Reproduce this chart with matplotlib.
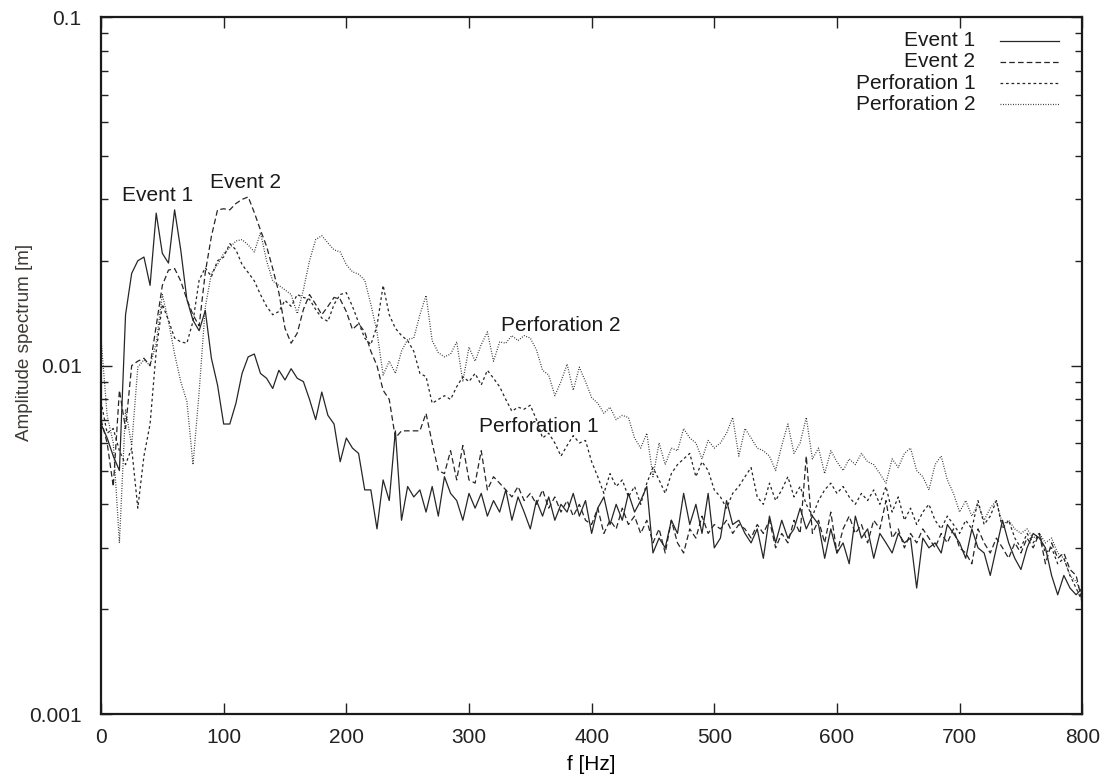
import numpy as np
import matplotlib
matplotlib.use("Agg")
import matplotlib.pyplot as plt
from matplotlib.ticker import FixedLocator, LogLocator, FuncFormatter, NullFormatter

plt.rcParams['font.family'] = ['Liberation Sans', 'DejaVu Sans']

## data (5 Hz steps)

freq = np.arange(0, 805, 5)

event1 = [
    0.0068, 0.0062, 0.0055, 0.0050, 0.0140, 0.0184, 0.0200, 0.0205, 0.0170, 0.0274,
    0.0210, 0.0197, 0.0280, 0.0215, 0.0155, 0.0135, 0.0126, 0.0144, 0.0105, 0.0088,
    0.0068, 0.0068, 0.0078, 0.0095, 0.0106, 0.0108, 0.0095, 0.0092, 0.0086, 0.0097,
    0.0091, 0.0098, 0.0092, 0.0090, 0.0080, 0.0070, 0.0084, 0.0072, 0.0068, 0.0053,
    0.0062, 0.0058, 0.0056, 0.0044, 0.0044, 0.0034, 0.0047, 0.0041, 0.0065, 0.0036,
    0.0045, 0.0042, 0.0044, 0.0038, 0.0045, 0.0037, 0.0048, 0.0043, 0.0041, 0.0036,
    0.0043, 0.0039, 0.0043, 0.0037, 0.0041, 0.0038, 0.0044, 0.0036, 0.0042, 0.0038,
    0.0034, 0.0041, 0.0037, 0.0042, 0.0036, 0.0040, 0.0038, 0.0043, 0.0037, 0.0041,
    0.0033, 0.0039, 0.0042, 0.0035, 0.0040, 0.0036, 0.0043, 0.0038, 0.0041, 0.0045,
    0.0029, 0.0032, 0.0030, 0.0036, 0.0033, 0.0043, 0.0035, 0.0040, 0.0033, 0.0043,
    0.0030, 0.0032, 0.0041, 0.0035, 0.0036, 0.0033, 0.0031, 0.0034, 0.0028, 0.0037,
    0.0031, 0.0036, 0.0032, 0.0034, 0.0039, 0.0034, 0.0037, 0.0035, 0.0028, 0.0034,
    0.0029, 0.0031, 0.0027, 0.0037, 0.0032, 0.0034, 0.0028, 0.0033, 0.0031, 0.0029,
    0.0033, 0.0031, 0.0032, 0.0023, 0.0032, 0.0030, 0.0031, 0.0029, 0.0035, 0.0033,
    0.0031, 0.0028, 0.0034, 0.0030, 0.0029, 0.0025, 0.0030, 0.0036, 0.0031, 0.0028,
    0.0026, 0.0030, 0.0033, 0.0032, 0.0030, 0.0025, 0.0022, 0.0025, 0.0023, 0.0022,
    0.0023]

event2 = [
    0.0070, 0.0060, 0.0045, 0.0085, 0.0066, 0.0100, 0.0103, 0.0105, 0.0100, 0.0130,
    0.0170, 0.0188, 0.0190, 0.0175, 0.0155, 0.0140, 0.0130, 0.0185, 0.0235, 0.0280,
    0.0282, 0.0280, 0.0292, 0.0300, 0.0305, 0.0275, 0.0245, 0.0220, 0.0190, 0.0162,
    0.0128, 0.0116, 0.0124, 0.0145, 0.0160, 0.0150, 0.0140, 0.0148, 0.0157, 0.0155,
    0.0143, 0.0127, 0.0132, 0.0125, 0.0110, 0.0100, 0.0085, 0.0080, 0.0062, 0.0065,
    0.0065, 0.0065, 0.0065, 0.0073, 0.0060, 0.0050, 0.0049, 0.0057, 0.0047, 0.0059,
    0.0047, 0.0046, 0.0057, 0.0044, 0.0048, 0.0046, 0.0044, 0.0042, 0.0045, 0.0041,
    0.0043, 0.0040, 0.0044, 0.0039, 0.0042, 0.0038, 0.0041, 0.0037, 0.0040, 0.0036,
    0.0035, 0.0039, 0.0033, 0.0036, 0.0034, 0.0039, 0.0035, 0.0037, 0.0033, 0.0036,
    0.0031, 0.0034, 0.0029, 0.0036, 0.0031, 0.0029, 0.0034, 0.0032, 0.0037, 0.0033,
    0.0035, 0.0034, 0.0036, 0.0033, 0.0035, 0.0034, 0.0032, 0.0035, 0.0033, 0.0036,
    0.0030, 0.0033, 0.0031, 0.0036, 0.0033, 0.0055, 0.0033, 0.0036, 0.0031, 0.0038,
    0.0029, 0.0034, 0.0037, 0.0033, 0.0035, 0.0031, 0.0036, 0.0034, 0.0041, 0.0032,
    0.0034, 0.0030, 0.0033, 0.0031, 0.0034, 0.0032, 0.0030, 0.0033, 0.0031, 0.0034,
    0.0030, 0.0029, 0.0027, 0.0034, 0.0031, 0.0029, 0.0032, 0.0030, 0.0028, 0.0031,
    0.0029, 0.0032, 0.0030, 0.0033, 0.0027, 0.0031, 0.0028, 0.0029, 0.0026, 0.0025,
    0.0021]

perf1 = [
    0.0079, 0.0064, 0.0066, 0.0057, 0.0052, 0.0058, 0.0039, 0.0055, 0.0068, 0.0110,
    0.0150, 0.0135, 0.0120, 0.0117, 0.0116, 0.0134, 0.0176, 0.0191, 0.0180, 0.0200,
    0.0205, 0.0224, 0.0215, 0.0195, 0.0185, 0.0175, 0.0160, 0.0148, 0.0140, 0.0143,
    0.0154, 0.0148, 0.0160, 0.0157, 0.0155, 0.0145, 0.0137, 0.0134, 0.0150, 0.0160,
    0.0162, 0.0148, 0.0133, 0.0120, 0.0115, 0.0130, 0.0170, 0.0140, 0.0128, 0.0122,
    0.0118, 0.0110, 0.0095, 0.0093, 0.0078, 0.0080, 0.0082, 0.0080, 0.0087, 0.0093,
    0.0090, 0.0095, 0.0088, 0.0097, 0.0092, 0.0087, 0.0080, 0.0074, 0.0076, 0.0075,
    0.0077, 0.0070, 0.0062, 0.0064, 0.0060, 0.0055, 0.0059, 0.0063, 0.0060, 0.0061,
    0.0053, 0.0048, 0.0043, 0.0049, 0.0045, 0.0047, 0.0042, 0.0045, 0.0040, 0.0046,
    0.0051, 0.0047, 0.0043, 0.0049, 0.0052, 0.0054, 0.0056, 0.0048, 0.0053, 0.0050,
    0.0044, 0.0042, 0.0039, 0.0043, 0.0045, 0.0048, 0.0051, 0.0042, 0.0040, 0.0046,
    0.0041, 0.0044, 0.0048, 0.0042, 0.0045, 0.0040, 0.0037, 0.0041, 0.0044, 0.0046,
    0.0043, 0.0045, 0.0042, 0.0040, 0.0043, 0.0041, 0.0044, 0.0040, 0.0045, 0.0038,
    0.0042, 0.0036, 0.0039, 0.0035, 0.0038, 0.0040, 0.0036, 0.0034, 0.0037, 0.0035,
    0.0033, 0.0036, 0.0034, 0.0041, 0.0035, 0.0037, 0.0041, 0.0034, 0.0036, 0.0032,
    0.0030, 0.0033, 0.0031, 0.0033, 0.0029, 0.0030, 0.0027, 0.0028, 0.0025, 0.0023,
    0.0021]

perf2 = [
    0.0120, 0.0072, 0.0060, 0.0031, 0.0075, 0.0059, 0.0099, 0.0104, 0.0100, 0.0116,
    0.0160, 0.0134, 0.0108, 0.0090, 0.0079, 0.0052, 0.0084, 0.0147, 0.0184, 0.0195,
    0.0210, 0.0218, 0.0228, 0.0230, 0.0222, 0.0212, 0.0241, 0.0200, 0.0175, 0.0170,
    0.0165, 0.0160, 0.0141, 0.0165, 0.0200, 0.0230, 0.0236, 0.0225, 0.0215, 0.0212,
    0.0195, 0.0186, 0.0183, 0.0176, 0.0150, 0.0125, 0.0094, 0.0103, 0.0095, 0.0110,
    0.0119, 0.0120, 0.0140, 0.0159, 0.0118, 0.0109, 0.0106, 0.0108, 0.0117, 0.0090,
    0.0113, 0.0103, 0.0115, 0.0125, 0.0103, 0.0117, 0.0116, 0.0122, 0.0118, 0.0122,
    0.0120, 0.0111, 0.0097, 0.0094, 0.0082, 0.0090, 0.0101, 0.0085, 0.0099, 0.0090,
    0.0081, 0.0078, 0.0073, 0.0076, 0.0070, 0.0072, 0.0071, 0.0062, 0.0058, 0.0064,
    0.0048, 0.0060, 0.0052, 0.0058, 0.0057, 0.0066, 0.0062, 0.0060, 0.0054, 0.0061,
    0.0058, 0.0060, 0.0064, 0.0071, 0.0055, 0.0066, 0.0062, 0.0058, 0.0057, 0.0055,
    0.0050, 0.0059, 0.0068, 0.0056, 0.0060, 0.0071, 0.0054, 0.0058, 0.0049, 0.0057,
    0.0053, 0.0050, 0.0054, 0.0052, 0.0056, 0.0053, 0.0052, 0.0049, 0.0046, 0.0054,
    0.0051, 0.0056, 0.0058, 0.0050, 0.0048, 0.0044, 0.0052, 0.0055, 0.0047, 0.0043,
    0.0038, 0.0041, 0.0037, 0.0040, 0.0036, 0.0039, 0.0041, 0.0035, 0.0036, 0.0034,
    0.0033, 0.0034, 0.0032, 0.0033, 0.0031, 0.0032, 0.0029, 0.0028, 0.0025, 0.0024,
    0.0022]

names = ["Event 1", "Event 2", "Perforation 1", "Perforation 2"]
series = [event1, event2, perf1, perf2]

# curve labels written inside the plot (f, amplitude)
note_text = ["Event 1", "Event 2", "Perforation 2", "Perforation 1"]
note_f = [46, 118, 375, 357]
note_amp = [0.0308, 0.0336, 0.0130, 0.0067]

## figure

col = '#262626'
fs = 15
styles = [
    dict(linestyle='-'),
    dict(linestyle=(0, (4.5, 2.5))),
    dict(linestyle=(0, (2.2, 2.2))),
    dict(linestyle=(0, (0.7, 1.3))),
]

fig = plt.figure(figsize=(11.1, 7.83), dpi=100)
ax = fig.add_axes([0.091, 0.088, 0.884, 0.890])

for y, st in zip(series, styles):
    ax.plot(freq, y, color=col, linewidth=0.9, **st)

ax.set_yscale('log')
ax.set_xlim(0, 800)
ax.set_ylim(0.001, 0.1)

ax.xaxis.set_major_locator(FixedLocator(np.arange(0, 801, 100)))
ax.yaxis.set_major_locator(FixedLocator([0.001, 0.01, 0.1]))
ax.yaxis.set_minor_locator(LogLocator(base=10, subs=np.arange(2, 10)))
ax.yaxis.set_major_formatter(FuncFormatter(lambda v, _: '%g' % v))
ax.yaxis.set_minor_formatter(NullFormatter())

ax.tick_params(which='both', direction='in', top=True, right=True,
               labelsize=fs, width=1.0, colors='#222222')
ax.tick_params(axis='y', pad=14)
ax.tick_params(axis='x', pad=10)
ax.tick_params(which='major', length=8)
ax.tick_params(which='minor', length=5)
for sp in ax.spines.values():
    sp.set_linewidth(1.6)
    sp.set_color('#1a1a1a')

ax.set_xlabel("f [Hz]", fontsize=fs, labelpad=6)
ax.set_ylabel("Amplitude spectrum [m]", fontsize=13.6, color='#3d3a33')
ax.yaxis.set_label_coords(-0.069, 0.534)

for t, fx, a in zip(note_text, note_f, note_amp):
    ax.text(fx, a, t, ha='center', va='center', fontsize=fs, color='#1a1a1a')

# gnuplot style key, right aligned
key_y = [0.966, 0.936, 0.905, 0.875]
for name, st, ky in zip(names, styles, key_y):
    ax.text(0.891, ky, name, transform=ax.transAxes, ha='right', va='center',
            fontsize=fs, color='#1a1a1a')
    ax.plot([0.916, 0.976], [ky, ky], transform=ax.transAxes, color=col,
            linewidth=0.9, **st)

fig.savefig("out.png", dpi=100)
